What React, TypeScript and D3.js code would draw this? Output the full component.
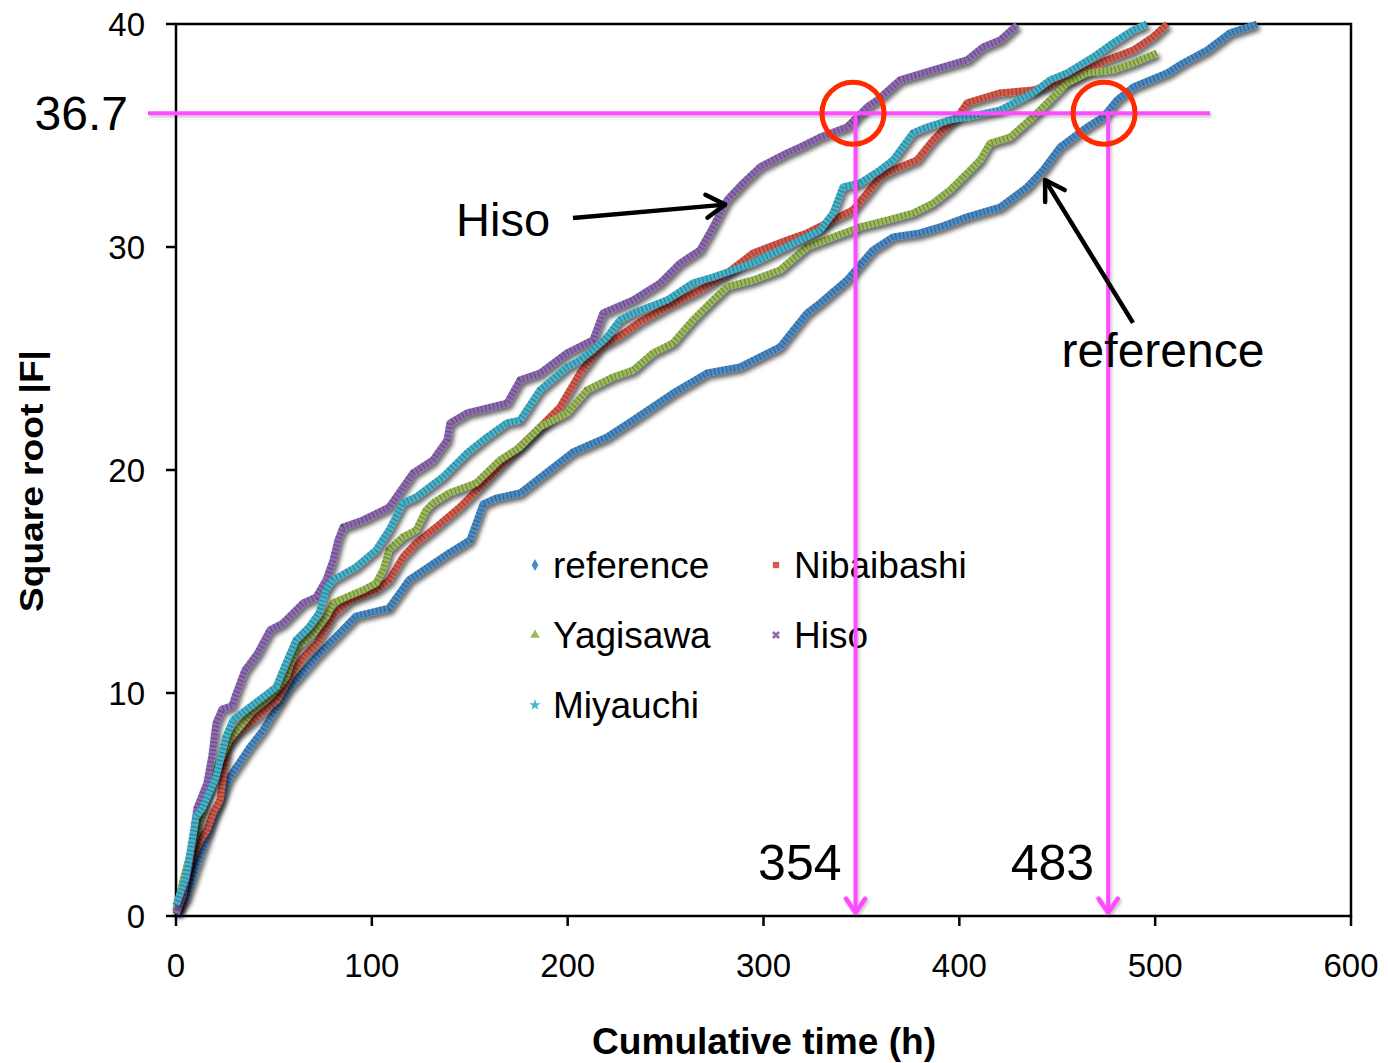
import React from "react";
import * as d3 from "d3";

// series: [cumulative time (h), square root |F|]
const reference = [
  [0, 0.18], [5.1, 0.81], [11.2, 2.42], [18.4, 4.3], [27.1, 6.19], [37.3, 7.53], [44.4, 8.34],
  [57.7, 10.22], [71.5, 11.61], [91.9, 13.45], [108.7, 13.81], [118.9, 15.07], [139.4, 16.28],
  [150.1, 16.86], [156.8, 18.48], [163.4, 18.74], [175.7, 18.97], [202.7, 20.81], [220.1, 21.48],
  [233.4, 22.24], [253.8, 23.45], [271.2, 24.35], [288, 24.62], [298.2, 25.07], [308.4, 25.52],
  [322.2, 27.04], [328.9, 27.49], [342.6, 28.52], [355.9, 29.87], [366.1, 30.45], [379.9, 30.63],
  [390.1, 30.9], [403.9, 31.35], [420.8, 31.79], [434.6, 32.69], [442.7, 33.45], [451.4, 34.48],
  [465.2, 35.38], [473.4, 35.83], [480.5, 36.59], [488.7, 37.17], [506.1, 37.8], [514.2, 38.25],
  [526.5, 38.83], [538.2, 39.6], [552, 40.0],
];
const nibaibashi = [
  [0, 0.18], [7.1, 2.38], [12.3, 3.41], [15.8, 3.86], [18.9, 4.62], [22.5, 5.2], [24, 6.23],
  [26, 7.58], [31.1, 8.21], [41.4, 8.92], [51.6, 9.69], [58.2, 10.72], [64.9, 11.61], [72, 12.24],
  [80.2, 13.5], [88.9, 14.17], [102.1, 14.62], [108.8, 15.07], [115.9, 16.1], [122.6, 16.73],
  [132.8, 17.44], [145, 18.34], [158.8, 19.55], [172.1, 20.76], [185.9, 21.93], [196.1, 22.83],
  [206.3, 24.35], [216.5, 25.52], [226.7, 26.01], [236.9, 26.64], [250.7, 27.31], [267.6, 28.07],
  [281.4, 28.83], [294.6, 29.73], [312, 30.31], [322.2, 30.63], [332.4, 31.08], [345.7, 31.67],
  [352.9, 32.42], [359.5, 33.14], [366.1, 33.45], [378.4, 33.9], [386.6, 34.8], [400.4, 36.01],
  [403.9, 36.46], [420.8, 36.91], [437.6, 37.04], [455, 37.49], [465.2, 37.94], [475.4, 38.39],
  [488.7, 38.83], [498.9, 39.42], [506.1, 40.0],
];
const yagisawa = [
  [0, 0.27], [3.6, 1.61], [10.2, 3.72], [15.3, 5.34], [20.4, 6.55], [27.1, 7.89], [34.2, 8.65],
  [39.3, 9.24], [46, 9.69], [51.1, 10.13], [56.2, 10.72], [61.3, 12.06], [64.9, 12.24], [71.5, 12.83],
  [76.6, 13.41], [80.2, 14.04], [86.8, 14.3], [95.5, 14.62], [102.1, 14.93], [105.7, 15.52],
  [108.8, 16.41], [115.9, 17.0], [122.6, 17.31], [127.7, 18.21], [131.2, 18.52], [139.4, 18.97],
  [153.2, 19.42], [165.4, 20.45], [175.7, 21.03], [185.9, 21.93], [199.7, 22.56], [209.9, 23.59],
  [223.2, 24.17], [233.4, 24.48], [243.6, 25.25], [253.8, 25.7], [264, 26.73], [274.2, 27.62],
  [281.4, 28.21], [294.6, 28.52], [308.4, 28.97], [322.2, 30.0], [335.5, 30.45], [349.3, 30.9],
  [363.1, 31.21], [376.3, 31.52], [386.6, 31.97], [395.2, 32.56], [403.9, 33.31], [410.6, 33.9],
  [415.7, 34.66], [425.9, 34.93], [437.6, 35.83], [447.8, 36.73], [455, 37.35], [465.2, 37.8],
  [478.5, 37.94], [488.7, 38.25], [500.9, 38.7],
];
const hiso = [
  [0, 0.09], [3.6, 0.94], [7.1, 2.51], [10.7, 4.84], [15.8, 5.96], [18.4, 7.22], [20.4, 8.65],
  [23.5, 9.28], [28.6, 9.42], [30.6, 9.96], [35.2, 11.03], [41.4, 11.75], [48, 12.83], [54.6, 13.14],
  [64.9, 14.04], [71.5, 14.3], [76.6, 15.07], [80.2, 15.96], [82.7, 16.86], [85.3, 17.44],
  [95.5, 17.76], [108.8, 18.34], [121, 19.87], [131.2, 20.45], [138.4, 21.35], [139.9, 22.11],
  [148.6, 22.56], [169, 23.0], [175.7, 24.04], [185.9, 24.35], [199.7, 25.25], [212.9, 25.83],
  [218, 27.04], [233.4, 27.62], [247.2, 28.39], [257.4, 29.28], [267.6, 29.87], [274.2, 30.9],
  [281.4, 32.11], [289.5, 32.87], [298.2, 33.59], [312, 34.22], [318.6, 34.48], [328.9, 34.93],
  [342.6, 35.38], [352.9, 36.28], [358, 36.59], [369.7, 37.49], [386.6, 37.94], [403.9, 38.39],
  [412.1, 38.97], [420.8, 39.28], [429.5, 39.96],
];
const miyauchi = [
  [0, 0.49], [5.1, 1.75], [10.2, 4.44], [13.8, 4.89], [20.4, 6.23], [25.5, 8.03], [29.1, 8.79],
  [35.7, 9.24], [44.4, 9.82], [51.1, 10.27], [56.2, 11.35], [61.3, 12.38], [67.9, 12.96], [73, 13.59],
  [76.6, 14.62], [80.2, 15.07], [91.9, 15.65], [102.1, 16.41], [108.8, 17.31], [115.9, 18.52],
  [122.6, 18.79], [136.3, 19.69], [148.6, 20.76], [158.8, 21.48], [169, 22.11], [175.7, 22.24],
  [185.9, 23.59], [199.7, 24.62], [206.3, 24.93], [212.9, 25.38], [220.1, 25.96], [226.7, 26.73],
  [233.4, 27.04], [250.7, 27.62], [264, 28.39], [274.2, 28.65], [294.6, 29.28], [308.4, 29.87],
  [322.2, 30.45], [328.9, 30.76], [335.5, 31.52], [340.6, 32.69], [349.3, 32.87], [359.5, 33.45],
  [366.1, 33.9], [376.3, 35.11], [383.5, 35.38], [395.2, 35.7], [403.9, 35.83], [420.8, 36.14],
  [437.6, 36.91], [446.3, 37.49], [455, 37.8], [468.3, 38.52], [478.5, 39.15], [488.7, 39.73],
  [495.8, 40.0],
];

const seriesNames = ["reference", "Nibaibashi", "Yagisawa", "Hiso", "Miyauchi"];
const seriesData = [reference, nibaibashi, yagisawa, hiso, miyauchi];
const colors = ["#4a8bc6", "#d65a4c", "#9bbb59", "#8e6bb3", "#45b3cc"];
const symbols = [d3.symbolDiamond, d3.symbolSquare, d3.symbolTriangle, d3.symbolCross, d3.symbolStar];

const xTicks = [0, 100, 200, 300, 400, 500, 600];
const yTicks = [0, 10, 20, 30, 40];

// annotations (data units)
const levelLabel = "36.7";
const levelDrawn = 36.0;
const levelFrom = -14.3, levelTo = 528;
const crossings = [
  { label: "354", x: 347, cx: 345.7 },
  { label: "483", x: 476, cx: 473.9 },
];
const arrowNotes = [
  { text: "Hiso", from: [202.7, 31.3], to: [280.4, 31.9], tx: 191, ty: 30.5, anchor: "end" },
  { text: "reference", from: [488.7, 26.6], to: [443.8, 33.0], tx: 504, ty: 24.6, anchor: "middle" },
];

const W = 1388, H = 1063;
const font = "'Liberation Sans', Arial, Helvetica, sans-serif";

export default function App() {
  const x = d3.scaleLinear().domain([0, 600]).range([176, 1351]);
  const y = d3.scaleLinear().domain([0, 40]).range([916, 24]);
  const line = d3.line<number[]>().x(d => x(d[0])).y(d => y(d[1])).curve(d3.curveLinear);

  const chevron = (x1: number, y1: number, x2: number, y2: number, len: number, spread: number) => {
    const a = Math.atan2(y2 - y1, x2 - x1);
    const p1 = [x2 - len * Math.cos(a - spread), y2 - len * Math.sin(a - spread)];
    const p2 = [x2 - len * Math.cos(a + spread), y2 - len * Math.sin(a + spread)];
    return `M${p1[0]},${p1[1]}L${x2},${y2}L${p2[0]},${p2[1]}`;
  };

  const legendRows = [
    { i: 0, col: 0, row: 0 }, { i: 1, col: 1, row: 0 },
    { i: 2, col: 0, row: 1 }, { i: 3, col: 1, row: 1 },
    { i: 4, col: 0, row: 2 },
  ];

  return (
    <svg width={W} height={H} style={{ position: "absolute", left: 0, top: 0, background: "#fff" }}
      fontFamily={font}>
      <defs>
        <filter id="shadow" x="-10%" y="-10%" width="120%" height="120%">
          <feDropShadow dx="2.5" dy="3.5" stdDeviation="2.2" floodColor="#000" floodOpacity="0.6" />
        </filter>
        <filter id="softshadow" x="-10%" y="-10%" width="120%" height="120%">
          <feDropShadow dx="1.5" dy="2" stdDeviation="1.5" floodColor="#000" floodOpacity="0.25" />
        </filter>
      </defs>
      <rect width={W} height={H} fill="#fff" />

      {/* axes */}
      <rect x={x(0)} y={y(40)} width={x(600) - x(0)} height={y(0) - y(40)} fill="none" stroke="#000" strokeWidth={2.5} />
      {yTicks.map(t => (
        <g key={"y" + t}>
          <line x1={x(0) - 10} x2={x(0)} y1={y(t)} y2={y(t)} stroke="#000" strokeWidth={2.5} />
          <text x={145} y={y(t)} dy="0.36em" textAnchor="end" fontSize={33}>{t}</text>
        </g>
      ))}
      {xTicks.map(t => (
        <g key={"x" + t}>
          <line x1={x(t)} x2={x(t)} y1={y(0)} y2={y(0) + 10} stroke="#000" strokeWidth={2.5} />
          <text x={x(t)} y={977} textAnchor="middle" fontSize={33}>{t}</text>
        </g>
      ))}
      <text x={764} y={1054} textAnchor="middle" fontSize={36} fontWeight="bold"
        textLength={344} lengthAdjust="spacingAndGlyphs">Cumulative time (h)</text>
      <text transform="translate(43,481) rotate(-90)" textAnchor="middle" fontSize={34} fontWeight="bold"
        textLength={262} lengthAdjust="spacingAndGlyphs">Square root |F|</text>

      {/* series */}
      {seriesData.map((s, i) => (
        <g key={seriesNames[i]}>
          <path d={line(s) || ""} fill="none" stroke={colors[i]} strokeWidth={7} strokeLinejoin="round"
            filter="url(#shadow)" />
          <path d={line(s) || ""} fill="none" stroke="#000" strokeOpacity={0.28} strokeWidth={7}
            strokeDasharray="1.2 2.8" />
        </g>
      ))}

      {/* legend */}
      {legendRows.map(({ i, col, row }) => {
        const mx = col === 0 ? 535 : 776;
        const my = 565 + row * 70;
        return (
          <g key={"lg" + i}>
            <path d={d3.symbol().type(symbols[i]).size(40)() || ""} transform={`translate(${mx},${my})${i === 3 ? " rotate(45)" : ""}`}
              fill={colors[i]} />
            <text x={mx + 18} y={my} dy="0.36em" fontSize={37}>{seriesNames[i]}</text>
          </g>
        );
      })}

      {/* threshold annotation */}
      <g filter="url(#softshadow)">
        <line x1={x(levelFrom)} x2={x(levelTo)} y1={y(levelDrawn)} y2={y(levelDrawn)} stroke="#ff4cff" strokeWidth={4} />
        {crossings.map(c => (
          <g key={c.label}>
            <line x1={x(c.x)} x2={x(c.x)} y1={y(levelDrawn)} y2={y(0.15)} stroke="#ff4cff" strokeWidth={4} />
            <path d={chevron(x(c.x), y(levelDrawn), x(c.x), y(0.15), 17, 0.6)} fill="none" stroke="#ff4cff"
              strokeWidth={4.5} strokeLinecap="round" strokeLinejoin="round" />
          </g>
        ))}
      </g>
      <text x={128} y={y(levelDrawn)} dy="0.36em" textAnchor="end" fontSize={48}>{levelLabel}</text>
      {crossings.map(c => (
        <g key={"c" + c.label}>
          <circle cx={x(c.cx)} cy={y(levelDrawn)} r={31} fill="none" stroke="#ff2a00" strokeWidth={5} />
          <text x={x(c.x) - 14} y={880} textAnchor="end" fontSize={50}>{c.label}</text>
        </g>
      ))}

      {/* arrow notes */}
      {arrowNotes.map(n => {
        const [x1, y1] = [x(n.from[0]), y(n.from[1])];
        const [x2, y2] = [x(n.to[0]), y(n.to[1])];
        return (
          <g key={n.text}>
            <line x1={x1} y1={y1} x2={x2} y2={y2} stroke="#000" strokeWidth={4.5} />
            <path d={chevron(x1, y1, x2, y2, 22, 0.55)} fill="none" stroke="#000" strokeWidth={4.5}
              strokeLinecap="round" strokeLinejoin="round" />
            <text x={x(n.tx)} y={y(n.ty)} textAnchor={n.anchor} fontSize={n.text === "Hiso" ? 47 : 48}>{n.text}</text>
          </g>
        );
      })}
    </svg>
  );
}
